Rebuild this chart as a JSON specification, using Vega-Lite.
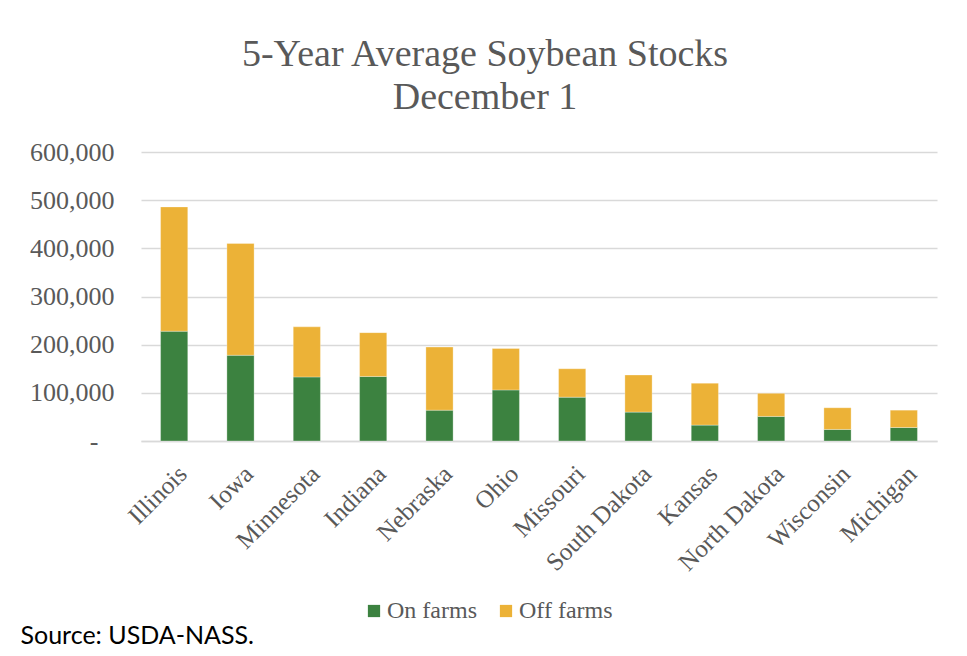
{
  "$schema": "https://vega.github.io/schema/vega-lite/v6.json",
  "width": 796,
  "height": 289,
  "autosize": "none",
  "padding": {"left": 141, "top": 152, "right": 30, "bottom": 215},
  "background": "white",
  "title": {
    "text": ["5-Year Average Soybean Stocks", "December 1"],
    "font": "Liberation Serif",
    "fontSize": 38,
    "fontWeight": "normal",
    "color": "#595959",
    "lineHeight": 43,
    "anchor": "middle",
    "dx": -54,
    "offset": 22
  },
  "data": {
    "values": [
      {"state": "Illinois", "type": "On farms", "stocks": 228000},
      {"state": "Illinois", "type": "Off farms", "stocks": 258000},
      {"state": "Iowa", "type": "On farms", "stocks": 178000},
      {"state": "Iowa", "type": "Off farms", "stocks": 232000},
      {"state": "Minnesota", "type": "On farms", "stocks": 133000},
      {"state": "Minnesota", "type": "Off farms", "stocks": 104000},
      {"state": "Indiana", "type": "On farms", "stocks": 134000},
      {"state": "Indiana", "type": "Off farms", "stocks": 91000},
      {"state": "Nebraska", "type": "On farms", "stocks": 64000},
      {"state": "Nebraska", "type": "Off farms", "stocks": 131000},
      {"state": "Ohio", "type": "On farms", "stocks": 106000},
      {"state": "Ohio", "type": "Off farms", "stocks": 86000},
      {"state": "Missouri", "type": "On farms", "stocks": 91000},
      {"state": "Missouri", "type": "Off farms", "stocks": 59000},
      {"state": "South Dakota", "type": "On farms", "stocks": 60000},
      {"state": "South Dakota", "type": "Off farms", "stocks": 77000},
      {"state": "Kansas", "type": "On farms", "stocks": 33000},
      {"state": "Kansas", "type": "Off farms", "stocks": 87000},
      {"state": "North Dakota", "type": "On farms", "stocks": 51000},
      {"state": "North Dakota", "type": "Off farms", "stocks": 48000},
      {"state": "Wisconsin", "type": "On farms", "stocks": 24000},
      {"state": "Wisconsin", "type": "Off farms", "stocks": 45000},
      {"state": "Michigan", "type": "On farms", "stocks": 28000},
      {"state": "Michigan", "type": "Off farms", "stocks": 36000}
    ]
  },
  "mark": {"type": "bar", "stroke": "white", "strokeWidth": 0.5, "strokeOpacity": 0.6},
  "encoding": {
    "x": {
      "field": "state",
      "type": "nominal",
      "sort": null,
      "scale": {"paddingInner": 0.59, "paddingOuter": 0.295},
      "axis": {
        "title": "Source: USDA-NASS.",
        "titleFont": "Lato",
        "titleFontSize": 25,
        "titleFontWeight": "normal",
        "titleColor": "black",
        "titleAnchor": "start",
        "titleAlign": "left",
        "titleBaseline": "middle",
        "titleX": -121,
        "titleY": 194,
        "labelAngle": -45,
        "labelFont": "Liberation Serif",
        "labelFontSize": 25,
        "labelColor": "#595959",
        "labelPadding": 20,
        "labelDx": -12,
        "ticks": false,
        "domainColor": "#d9d9d9",
        "domainWidth": 1.5
      }
    },
    "y": {
      "field": "stocks",
      "type": "quantitative",
      "stack": "zero",
      "scale": {"domain": [0, 600000]},
      "axis": {
        "title": null,
        "values": [0, 100000, 200000, 300000, 400000, 500000, 600000],
        "labelExpr": "datum.value == 0 ? '-' : format(datum.value, ',')",
        "labelFont": "Liberation Serif",
        "labelFontSize": 26,
        "labelColor": "#595959",
        "labelPadding": {"condition": {"test": "datum.value == 0", "value": 43}, "value": 27},
        "ticks": false,
        "domain": false,
        "gridColor": "#d9d9d9",
        "gridWidth": 1.5
      }
    },
    "color": {
      "field": "type",
      "type": "nominal",
      "scale": {"domain": ["On farms", "Off farms"], "range": ["#3c8240", "#ecb237"]},
      "legend": {
        "title": null,
        "orient": "none",
        "direction": "horizontal",
        "legendX": 221,
        "legendY": 447,
        "symbolType": "square",
        "symbolSize": 150,
        "symbolStrokeWidth": 0,
        "labelFont": "Liberation Serif",
        "labelFontSize": 24,
        "labelColor": "#595959",
        "columnPadding": 17,
        "labelOffset": 1
      }
    },
    "order": {"field": "type", "sort": "descending"}
  },
  "config": {
    "view": {"stroke": null}
  }
}
